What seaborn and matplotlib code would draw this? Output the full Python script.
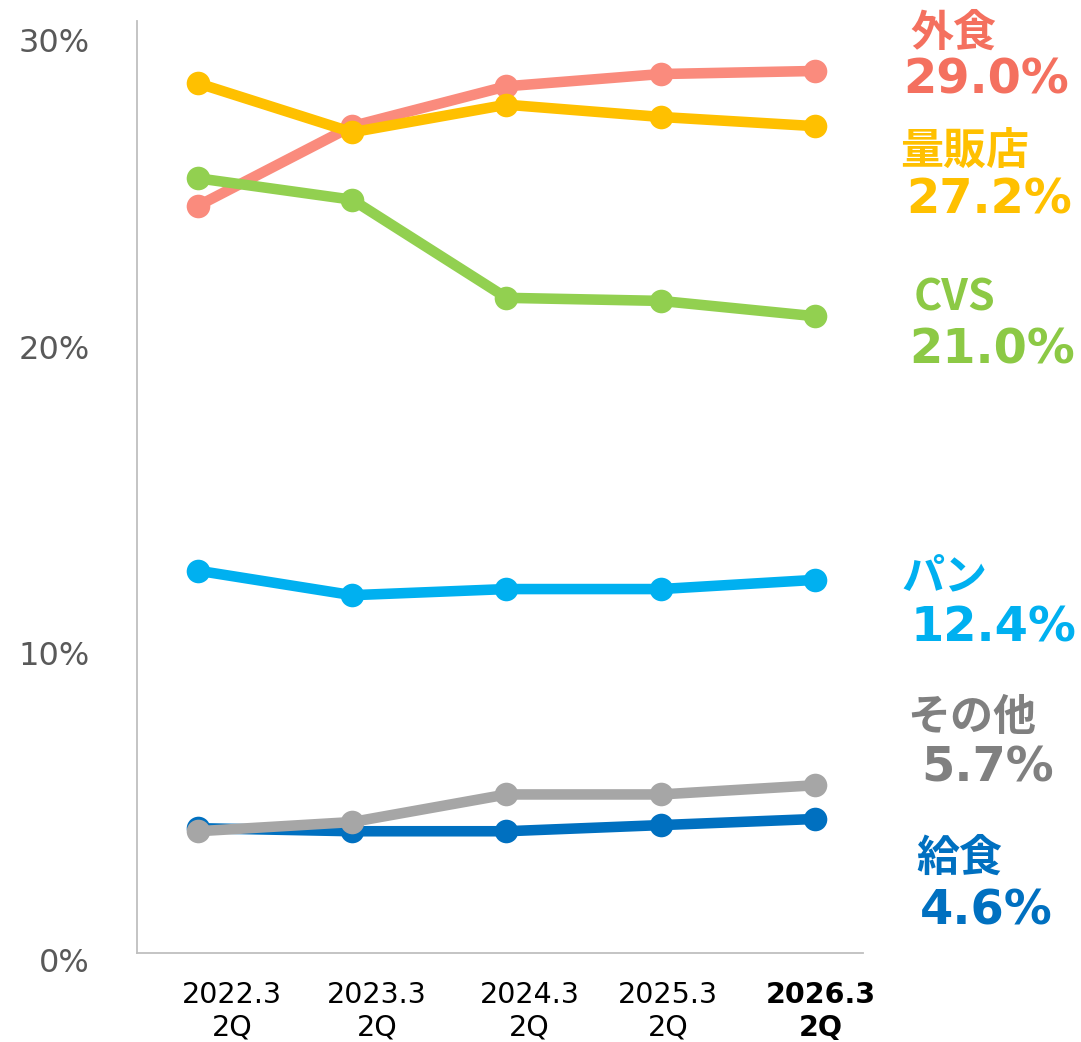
import numpy as np
import pandas as pd
import matplotlib
matplotlib.use("Agg")
import matplotlib.pyplot as plt
import matplotlib.transforms as mtransforms
import seaborn as sns

# ---- data ----
periods = ["2022.3\n2Q", "2023.3\n2Q", "2024.3\n2Q", "2025.3\n2Q", "2026.3\n2Q"]
categories = ["外食", "量販店", "CVS", "パン", "給食", "その他"]
gaishoku = [24.6, 27.2, 28.5, 28.9, 29.0]
ryohanten = [28.6, 27.0, 27.9, 27.5, 27.2]
cvs = [25.5, 24.8, 21.6, 21.5, 21.0]
pan = [12.7, 11.9, 12.1, 12.1, 12.4]
kyushoku = [4.3, 4.2, 4.2, 4.4, 4.6]
sonota = [4.2, 4.5, 5.4, 5.4, 5.7]
yticks = [0, 10, 20, 30]

series = {"外食": gaishoku, "量販店": ryohanten, "CVS": cvs,
          "パン": pan, "給食": kyushoku, "その他": sonota}

line_colors = {"外食": "#FA8B7D", "量販店": "#FFC000", "CVS": "#92D050",
               "パン": "#00B0F0", "給食": "#0070C0", "その他": "#A6A6A6"}
text_colors = {"外食": "#F4705F", "量販店": "#FFC000", "CVS": "#8CC945",
               "パン": "#00B0F0", "給食": "#0070C0", "その他": "#808080"}

rows = []
for c in categories:
    for i, v in enumerate(series[c]):
        rows.append({"x": i, "value": v, "cat": c})
df = pd.DataFrame(rows)

sns.set_theme(style="white")
plt.rcParams["font.family"] = ["DejaVu Sans", "Noto Sans CJK JP"]

W, H = 1081, 1042
fig = plt.figure(figsize=(W / 100, H / 100), dpi=100)
ax = fig.add_axes([137 / W, (H - 960) / H, (863 - 137) / W, (960 - 21) / H])

sns.lineplot(data=df, x="x", y="value", hue="cat", hue_order=categories,
             palette=line_colors, marker="o", markersize=17, markeredgewidth=0,
             linewidth=7.6, legend=False, sort=False, ax=ax, clip_on=False)

ax.set_xlim(-0.395, 4.311)
ax.set_ylim(0, 30.63)
ax.set_xlabel("")
ax.set_ylabel("")

for s in ["top", "right"]:
    ax.spines[s].set_visible(False)
for s in ["left", "bottom"]:
    ax.spines[s].set_color("#BFBFBF")
    ax.spines[s].set_linewidth(1.3)
ax.spines["bottom"].set_position(("data", 0.23))
ax.spines["left"].set_bounds(0.23, 30.63)

ax.set_yticks(yticks)
ax.set_yticklabels([f"{t}%" for t in yticks], fontsize=23, color="#595959")
ax.tick_params(axis="y", length=0, pad=34)

ax.set_xticks(range(len(periods)))
ax.set_xticklabels(periods, fontsize=20.5, color="#000000", linespacing=1.22)
ax.tick_params(axis="x", length=0, pad=20)
xoffs = [34, 25, 23, 7, 6]
for lab, dx in zip(ax.get_xticklabels(), xoffs):
    lab.set_transform(lab.get_transform() + mtransforms.ScaledTranslation(dx / 100, 0, fig.dpi_scale_trans))
ax.get_xticklabels()[-1].set_fontweight("bold")

# right-side labels (name center, value center) in pixel coords
label_pos = {
    "外食": ((953, 33), (986, 80)),
    "量販店": ((965, 151), (989, 200)),
    "CVS": ((955, 298), (992, 350)),
    "パン": ((944, 576), (993, 628)),
    "その他": ((972, 717), (988, 768)),
    "給食": ((959, 858), (986, 911)),
}
for c in categories:
    (nx, ny), (vx, vy) = label_pos[c]
    fig.text(nx / W, 1 - ny / H, c, ha="center", va="center", fontsize=31,
             fontweight="bold", color=text_colors[c],
             family=["Noto Sans CJK JP", "DejaVu Sans"])
    fig.text(vx / W, 1 - vy / H, f"{series[c][-1]:.1f}%", ha="center", va="center",
             fontsize=34.5, fontweight="bold", color=text_colors[c],
             family=["DejaVu Sans"])

fig.savefig("out.png", dpi=100)
